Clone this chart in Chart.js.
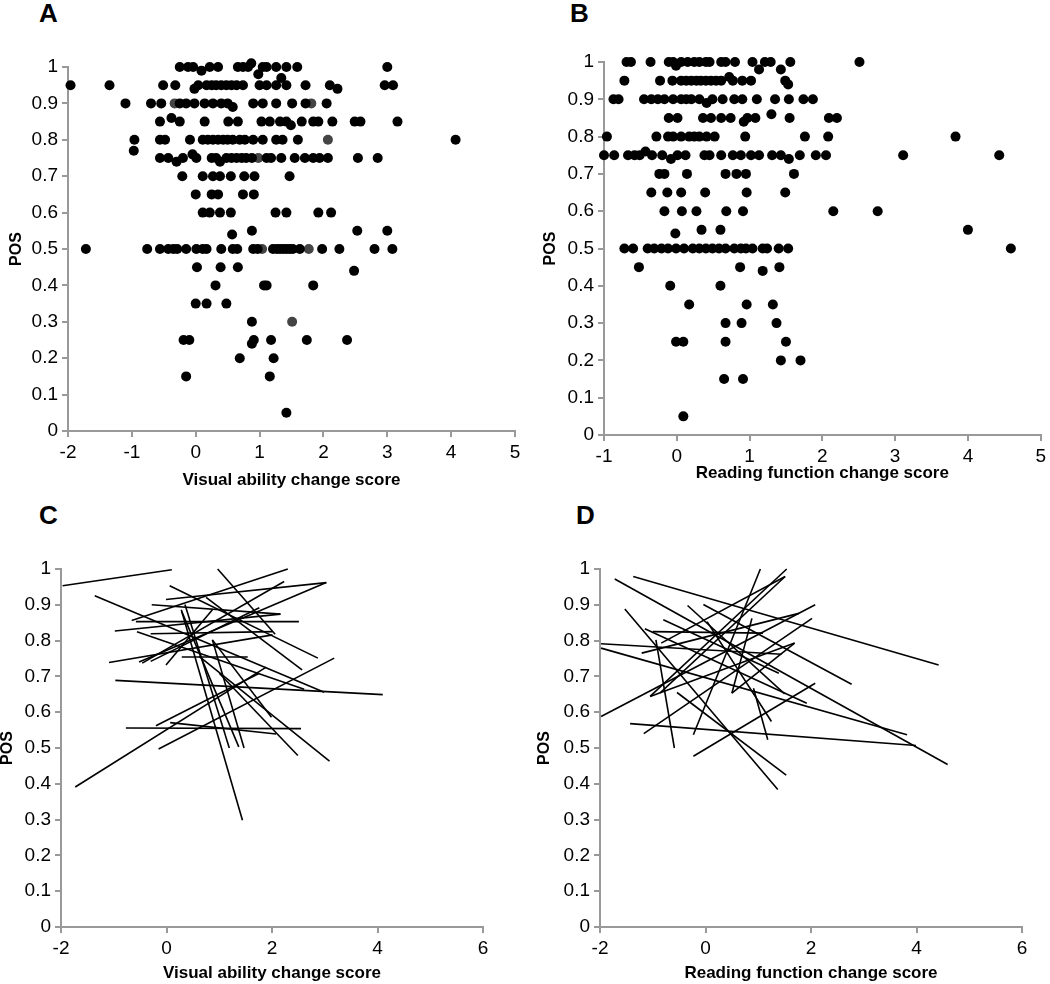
<!DOCTYPE html>
<html>
<head>
<meta charset="utf-8">
<script src="https://cdn.jsdelivr.net/npm/chart.js@4"></script>
<style>
  body { margin: 0; background: #fff; width: 1050px; height: 984px; position: relative; overflow: hidden;
         font-family: "Liberation Sans", Arial, sans-serif; }
  canvas { position: absolute; }
  .tag { position: absolute; font-weight: bold; font-size: 26px; line-height: 26px; color: #000; }
</style>
</head>
<body>
<div class="tag" style="left:39px;top:0px">A</div>
<div class="tag" style="left:570px;top:0px">B</div>
<div class="tag" style="left:39px;top:502px">C</div>
<div class="tag" style="left:576px;top:502px">D</div>
<canvas id="chartA" width="525" height="492" style="left:0px;top:0px"></canvas>
<canvas id="chartB" width="525" height="492" style="left:525px;top:0px"></canvas>
<canvas id="chartC" width="525" height="492" style="left:0px;top:492px"></canvas>
<canvas id="chartD" width="525" height="492" style="left:525px;top:492px"></canvas>
<script>
/* Panel A: visual ability change score vs POS */
var aVisual = [
  -0.25, -0.12, -0.04, 0.09, 0.22, 0.35, 0.66, 0.74, 0.82, 0.87, 0.98, 1.05, 1.11, 1.26, 1.34, 1.42, 1.59, 3.0,
  -1.96, -1.35, -0.51, -0.32, -0.02, 0.04, 0.17, 0.25, 0.32, 0.4, 0.48, 0.56, 0.64, 0.74, 1.0, 1.11, 1.26, 1.42, 1.72, 2.1, 2.22, 2.96, 3.09,
  -1.1, -0.7, -0.54, -0.25, -0.15, -0.02, 0.14, 0.27, 0.4, 0.5, 0.58, 0.9, 1.05, 1.26, 1.51, 1.72, 2.05,
  -0.56, -0.38, -0.25, 0.14, 0.51, 0.66, 1.03, 1.16, 1.32, 1.42, 1.49, 1.66, 1.84, 1.92, 2.14, 2.49, 2.58, 3.16,
  -0.96, -0.56, -0.48, -0.09, 0.11, 0.19, 0.27, 0.35, 0.43, 0.5, 0.58, 0.69, 0.77, 0.9, 1.05, 1.26, 1.36, 1.6, 4.07, -0.97,
  -0.56, -0.43, -0.3, -0.2, -0.05, 0.01, 0.25, 0.32, 0.38, 0.48, 0.56, 0.64, 0.72, 0.79, 0.88, 1.11, 1.18, 1.34, 1.55, 1.71, 1.84, 1.94, 2.07, 2.54, 2.85,
  -0.21, 0.11, 0.27, 0.38, 0.55, 0.76, 0.92, 1.47,
  0, 0.25, 0.35, 0.74, 0.91,
  0.11, 0.22, 0.38, 0.55, 1.25, 1.42, 1.92, 2.12,
  0.88, 2.53, 3.0, 0.57,
  -1.72, -0.76, -0.56, -0.43, -0.35, -0.29, -0.15, 0.01, 0.11, 0.17, 0.4, 0.58, 0.65, 0.9, 0.97, 1.21, 1.27, 1.32, 1.37, 1.42, 1.47, 1.52, 1.63, 1.98, 2.25, 2.8, 3.08,
  0.02, 0.39, 0.66, 2.48,
  0.31, 1.07, 1.11, 1.84,
  0, 0.17, 0.48,
  0.88,
  -0.19, -0.1, 0.91, 1.18, 1.74, 2.37, 0.88,
  0.69, 1.22,
  -0.15, 1.16,
  1.42
];
var aPos = [
  1, 1, 1, 0.99, 1, 1, 1, 1, 1, 1.01, 0.98, 1, 1, 1, 0.97, 1, 1, 1,
  0.95, 0.95, 0.95, 0.95, 0.94, 0.95, 0.95, 0.95, 0.95, 0.95, 0.95, 0.95, 0.95, 0.95, 0.95, 0.95, 0.95, 0.95, 0.95, 0.95, 0.94, 0.95, 0.95,
  0.9, 0.9, 0.9, 0.9, 0.9, 0.9, 0.9, 0.9, 0.9, 0.9, 0.89, 0.9, 0.9, 0.9, 0.9, 0.9, 0.9,
  0.85, 0.86, 0.85, 0.85, 0.85, 0.85, 0.85, 0.85, 0.85, 0.85, 0.84, 0.85, 0.85, 0.85, 0.85, 0.85, 0.85, 0.85,
  0.8, 0.8, 0.8, 0.8, 0.8, 0.8, 0.8, 0.8, 0.8, 0.8, 0.8, 0.8, 0.8, 0.8, 0.8, 0.8, 0.8, 0.8, 0.8, 0.77,
  0.75, 0.75, 0.74, 0.75, 0.76, 0.75, 0.75, 0.75, 0.74, 0.75, 0.75, 0.75, 0.75, 0.75, 0.75, 0.75, 0.75, 0.75, 0.75, 0.75, 0.75, 0.75, 0.75, 0.75, 0.75,
  0.7, 0.7, 0.7, 0.7, 0.7, 0.7, 0.7, 0.7,
  0.65, 0.65, 0.65, 0.65, 0.65,
  0.6, 0.6, 0.6, 0.6, 0.6, 0.6, 0.6, 0.6,
  0.55, 0.55, 0.55, 0.54,
  0.5, 0.5, 0.5, 0.5, 0.5, 0.5, 0.5, 0.5, 0.5, 0.5, 0.5, 0.5, 0.5, 0.5, 0.5, 0.5, 0.5, 0.5, 0.5, 0.5, 0.5, 0.5, 0.5, 0.5, 0.5, 0.5, 0.5,
  0.45, 0.45, 0.45, 0.44,
  0.4, 0.4, 0.4, 0.4,
  0.35, 0.35, 0.35,
  0.3,
  0.25, 0.25, 0.25, 0.25, 0.25, 0.25, 0.24,
  0.2, 0.2,
  0.15, 0.15,
  0.05
];
// the few dark grey dots in panel A
var aGreyVisual = [-0.33, 1.81, 2.07, 0.98, 1.04, 1.77, 1.51];
var aGreyPos    = [0.9, 0.9, 0.8, 0.75, 0.5, 0.5, 0.3];

/* Panel B: reading function change score vs POS */
var bReading = [
  -0.69, -0.63, -0.36, -0.11, -0.05, -0.01, 0.06, 0.15, 0.24, 0.31, 0.4, 0.45, 0.61, 0.67, 0.8, 1.04, 1.13, 1.21, 1.29, 1.43, 1.56, 2.51,
  -0.72, -0.23, -0.06, 0.06, 0.13, 0.2, 0.27, 0.33, 0.4, 0.47, 0.54, 0.61, 0.72, 0.77, 0.9, 1.02, 1.49, 1.53,
  -0.87, -0.8, -0.45, -0.35, -0.26, -0.17, -0.05, 0.06, 0.13, 0.2, 0.31, 0.41, 0.49, 0.63, 0.79, 0.9, 1.1, 1.35, 1.54, 1.74, 1.87,
  -0.11, 0.01, 0.36, 0.47, 0.61, 0.74, 0.92, 0.97, 1.08, 1.3, 1.55, 2.09, 2.2,
  -0.96, -0.28, -0.12, -0.05, 0.06, 0.17, 0.24, 0.31, 0.41, 0.52, 0.94, 1.76, 2.08, 3.83,
  -1.0, -0.86, -0.67, -0.58, -0.51, -0.43, -0.34, -0.2, -0.08, 0.01, 0.12, 0.38, 0.45, 0.61, 0.77, 0.88, 1.02, 1.13, 1.31, 1.43, 1.54, 1.69, 1.91, 2.05, 3.11, 4.43,
  -0.24, -0.17, 0.14, 0.67, 0.82, 0.95, 1.61,
  -0.35, -0.13, 0.06, 0.39, 0.96, 1.49,
  -0.17, 0.07, 0.27, 0.68, 0.91, 2.15, 2.76,
  0.34, 0.6, 4.0, -0.02,
  -0.72, -0.6, -0.4, -0.31, -0.21, -0.12, -0.01, 0.1, 0.22, 0.31, 0.4, 0.49, 0.58, 0.67, 0.79, 0.88, 0.95, 1.04, 1.18, 1.24, 1.4, 1.53, 4.59,
  -0.52, 0.87, 1.41, 1.18,
  -0.09, 0.6,
  0.17, 0.96, 1.32,
  0.67, 0.89, 1.37,
  -0.01, 0.09, 0.67, 1.5,
  1.43, 1.7,
  0.65, 0.91,
  0.09
];
var bPos = [
  1, 1, 1, 1, 1, 0.99, 1, 1, 1, 1, 1, 1, 1, 1, 1, 1, 0.98, 1, 1, 0.98, 1, 1,
  0.95, 0.95, 0.95, 0.95, 0.95, 0.95, 0.95, 0.95, 0.95, 0.95, 0.95, 0.95, 0.96, 0.95, 0.95, 0.95, 0.95, 0.94,
  0.9, 0.9, 0.9, 0.9, 0.9, 0.9, 0.9, 0.9, 0.9, 0.9, 0.9, 0.89, 0.9, 0.9, 0.9, 0.9, 0.9, 0.9, 0.9, 0.9, 0.9,
  0.85, 0.85, 0.85, 0.85, 0.85, 0.85, 0.84, 0.85, 0.85, 0.86, 0.85, 0.85, 0.85,
  0.8, 0.8, 0.8, 0.8, 0.8, 0.8, 0.8, 0.8, 0.8, 0.8, 0.8, 0.8, 0.8, 0.8,
  0.75, 0.75, 0.75, 0.75, 0.75, 0.76, 0.75, 0.75, 0.74, 0.75, 0.75, 0.75, 0.75, 0.75, 0.75, 0.75, 0.75, 0.75, 0.75, 0.75, 0.74, 0.75, 0.75, 0.75, 0.75, 0.75,
  0.7, 0.7, 0.7, 0.7, 0.7, 0.7, 0.7,
  0.65, 0.65, 0.65, 0.65, 0.65, 0.65,
  0.6, 0.6, 0.6, 0.6, 0.6, 0.6, 0.6,
  0.55, 0.55, 0.55, 0.54,
  0.5, 0.5, 0.5, 0.5, 0.5, 0.5, 0.5, 0.5, 0.5, 0.5, 0.5, 0.5, 0.5, 0.5, 0.5, 0.5, 0.5, 0.5, 0.5, 0.5, 0.5, 0.5, 0.5,
  0.45, 0.45, 0.45, 0.44,
  0.4, 0.4,
  0.35, 0.35, 0.35,
  0.3, 0.3, 0.3,
  0.25, 0.25, 0.25, 0.25,
  0.2, 0.2,
  0.15, 0.15,
  0.05
];

/* Panel C: individual fitted lines (start x/y, end x/y) */
var cStartX = [-1.97, -1.36, 0.06, 0.75, 0.97, -0.66, -0.01, -0.52, -0.46, -0.30, -0.01, -0.28, -0.58, -0.98, -0.30, -0.56, -1.09, 0.29, -0.97, -0.77, 0.07, -0.15, -1.73, -0.20, 0.28, 0.35, 0.29, 0.87, 0.87, 1.00, 0.62];
var cStartY = [0.953, 0.925, 0.953, 0.921, 1.0, 0.856, 0.915, 0.740, 0.737, 0.742, 0.732, 0.900, 0.853, 0.827, 0.819, 0.825, 0.739, 0.754, 0.689, 0.556, 0.571, 0.497, 0.391, 0.562, 0.886, 0.901, 0.881, 0.802, 0.802, 0.709, 0.756];
var cEndX   = [0.10, 2.99, 2.87, 2.57, 2.06, 2.30, 3.03, 3.03, 2.23, 1.76, 0.87, 2.16, 2.51, 2.16, 2.01, 2.61, 2.01, 1.54, 4.10, 2.55, 2.08, 3.18, 1.89, 1.76, 1.44, 1.19, 1.37, 1.47, 1.99, 2.49, 3.09];
var cEndY   = [0.998, 0.656, 0.751, 0.718, 0.818, 1.0, 0.962, 0.962, 0.965, 0.892, 0.886, 0.874, 0.853, 0.874, 0.825, 0.664, 0.816, 0.754, 0.649, 0.554, 0.539, 0.751, 0.726, 0.709, 0.298, 0.500, 0.503, 0.500, 0.586, 0.479, 0.463];

/* Panel D: individual fitted lines (start x/y, end x/y) */
var dStartX = [-1.37, -1.72, -1.98, -1.98, -1.43, -1.98, -0.94, -1.53, -0.54, -0.23, -0.04, -0.34, -1.15, -1.00, -0.80, -1.05, -0.86, -0.84, -1.05, -0.23, -1.17, 0.03, 0.50, 0.91, 0.50, -1.21];
var dStartY = [0.979, 0.972, 0.779, 0.791, 0.568, 0.588, 0.802, 0.888, 0.655, 0.477, 0.901, 0.898, 0.833, 0.825, 0.858, 0.644, 0.654, 0.793, 0.644, 0.537, 0.540, 0.853, 0.653, 0.667, 0.653, 0.765];
var dEndX   = [4.42, 4.59, 3.82, 1.44, 3.99, 2.08, -0.59, 1.37, 1.53, 2.08, 2.77, 1.50, 1.92, 1.09, 1.39, 1.69, 1.51, 1.51, 1.54, 1.04, 2.02, 1.25, 1.69, 1.18, 0.88, 1.77];
var dEndY   = [0.732, 0.454, 0.537, 0.762, 0.507, 0.900, 0.500, 0.384, 0.424, 0.681, 0.678, 0.651, 0.625, 0.821, 0.709, 0.793, 0.979, 0.979, 1.0, 1.0, 0.862, 0.574, 0.793, 0.523, 0.862, 0.876];

var posTicksMax = 1, posStep = 0.1;
var axisGray = '#999999';
var tickFont = { family: '"Liberation Sans", Arial, sans-serif', size: 19 };
var titleFont = { family: '"Liberation Sans", Arial, sans-serif', size: 17, weight: 'bold', lineHeight: 1 };
var posFont = { family: '"Liberation Sans", Arial, sans-serif', size: 16, weight: 'bold', lineHeight: 1 };

function toPoints(xs, ys) {
    var pts = [];
    for (var i = 0; i < xs.length && i < ys.length; i++) pts.push({ x: xs[i], y: ys[i] });
    return pts;
}

function dotSet(xs, ys, color) {
    return { data: toPoints(xs, ys), backgroundColor: color, borderWidth: 0, pointRadius: 5, pointHoverRadius: 5, clip: false };
}

function lineSets(x1, y1, x2, y2) {
    var sets = [];
    for (var i = 0; i < x1.length; i++) {
        sets.push({
            data: [{ x: x1[i], y: y1[i] }, { x: x2[i], y: y2[i] }],
            showLine: true, borderColor: '#000', borderWidth: 1.6, pointRadius: 0, fill: false, clip: false
        });
    }
    return sets;
}

// box: where the plot area sits inside its canvas
function panelOptions(xMin, xMax, xStep, xTitle, box) {
    return {
        responsive: false,
        animation: false,
        layout: { padding: { left: 0, top: box.top, right: box.right, bottom: 0 } },
        plugins: { legend: { display: false }, tooltip: { enabled: false } },
        scales: {
            x: {
                type: 'linear', min: xMin, max: xMax,
                ticks: { stepSize: xStep, font: tickFont, color: '#000', padding: 4, maxRotation: 0, autoSkip: false },
                grid: { drawOnChartArea: false, color: axisGray, lineWidth: 2, tickLength: 6 },
                border: { color: axisGray, width: 2 },
                title: { display: true, text: xTitle, font: titleFont, color: '#000', padding: { top: 0, bottom: box.xTitlePad } },
                afterFit: function (s) { s.height = box.xHeight; }
            },
            y: {
                type: 'linear', min: 0, max: posTicksMax,
                ticks: {
                    stepSize: posStep, font: tickFont, color: '#000', padding: 4,
                    callback: function (v) { return String(Math.round(v * 10) / 10); }
                },
                grid: { drawOnChartArea: false, color: axisGray, lineWidth: 2, tickLength: 6 },
                border: { color: axisGray, width: 2 },
                title: { display: true, text: 'POS', font: posFont, color: '#000', padding: { top: box.yTitlePad, bottom: 0 } },
                afterFit: function (s) { s.width = box.yWidth; }
            }
        }
    };
}

new Chart(document.getElementById('chartA'), {
    type: 'scatter',
    data: { datasets: [dotSet(aVisual, aPos, '#000'), dotSet(aGreyVisual, aGreyPos, '#444')] },
    options: panelOptions(-2, 5, 1, 'Visual ability change score',
        { top: 67, right: 10, xHeight: 61, xTitlePad: 3, yWidth: 68, yTitlePad: 9 })
});

new Chart(document.getElementById('chartB'), {
    type: 'scatter',
    data: { datasets: [dotSet(bReading, bPos, '#000')] },
    options: panelOptions(-1, 5, 1, 'Reading function change score',
        { top: 62, right: 7, xHeight: 57, xTitlePad: 10, yWidth: 79, yTitlePad: 18 })
});

new Chart(document.getElementById('chartC'), {
    type: 'scatter',
    data: { datasets: lineSets(cStartX, cStartY, cEndX, cEndY) },
    options: panelOptions(-2, 6, 2, 'Visual ability change score',
        { top: 77, right: 42, xHeight: 57, xTitlePad: 2, yWidth: 61, yTitlePad: 0 })
});

new Chart(document.getElementById('chartD'), {
    type: 'scatter',
    data: { datasets: lineSets(dStartX, dStartY, dEndX, dEndY) },
    options: panelOptions(-2, 6, 2, 'Reading function change score',
        { top: 77, right: 28, xHeight: 57, xTitlePad: 2, yWidth: 75, yTitlePad: 12 })
});
</script>
</body>
</html>
